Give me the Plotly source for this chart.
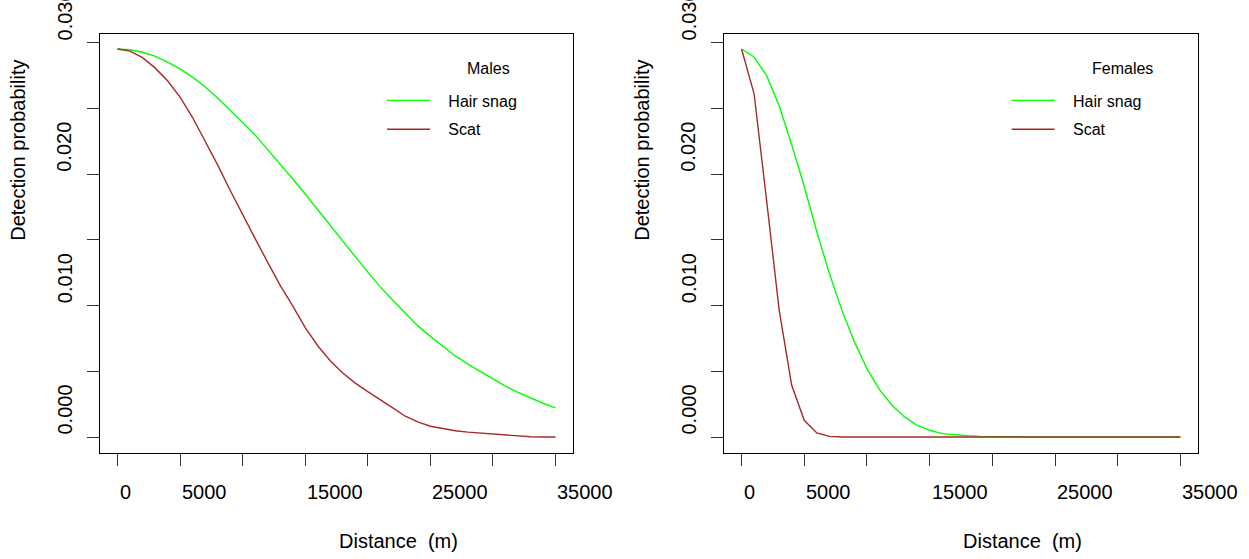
import plotly.graph_objects as go

# ---------------- data ----------------
distance_m = list(range(0, 36000, 1000))

males_hair_snag = [0.02954, 0.02948, 0.02929, 0.02900, 0.02853, 0.02803, 0.02740, 0.02666,
                   0.02580, 0.02490, 0.02394, 0.02300, 0.02190, 0.02076, 0.01964, 0.01850,
                   0.01733, 0.01612, 0.01493, 0.01373, 0.01255, 0.01143, 0.01041, 0.00943,
                   0.00846, 0.00766, 0.00690, 0.00617, 0.00555, 0.00497, 0.00443, 0.00387,
                   0.00340, 0.00298, 0.00257, 0.00221]
males_scat = [0.02954, 0.02938, 0.02888, 0.02810, 0.02712, 0.02588, 0.02432, 0.02255,
              0.02072, 0.01878, 0.01690, 0.01510, 0.01330, 0.01155, 0.00999, 0.00832,
              0.00695, 0.00580, 0.00487, 0.00410, 0.00345, 0.00285, 0.00222, 0.00158,
              0.00115, 0.00082, 0.00063, 0.00048, 0.00037, 0.00029, 0.00021, 0.00014,
              0.00008, 0.00002, 0.0, 0.0]
females_hair_snag = [0.02954, 0.02893, 0.02751, 0.02522, 0.02225, 0.01907, 0.01563, 0.01246,
                     0.00966, 0.00724, 0.00521, 0.00361, 0.00242, 0.00153, 0.00089, 0.00051,
                     0.00026, 0.00016, 0.00009, 0.00004, 0.00002, 0.0, 0.0, 0.0,
                     0.0, 0.0, 0.0, 0.0, 0.0, 0.0, 0.0, 0.0,
                     0.0, 0.0, 0.0, 0.0]
females_scat = [0.02954, 0.02613, 0.01800, 0.00966, 0.00394, 0.00127, 0.00031, 0.00005,
                0.0, 0.0, 0.0, 0.0, 0.0, 0.0, 0.0, 0.0,
                0.0, 0.0, 0.0, 0.0, 0.0, 0.0, 0.0, 0.0,
                0.0, 0.0, 0.0, 0.0, 0.0, 0.0, 0.0, 0.0,
                0.0, 0.0, 0.0, 0.0]

series_names = ["Hair snag", "Scat"]
panel_titles = ["Males", "Females"]
x_title = "Distance  (m)"
y_title = "Detection probability"

x_tick_vals = [0, 5000, 10000, 15000, 20000, 25000, 30000, 35000]
x_label_vals = [0, 5000, 15000, 25000, 35000]
x_label_text = ["0", "5000", "15000", "25000", "35000"]
y_tick_vals = [0.0, 0.005, 0.010, 0.015, 0.020, 0.025, 0.030]
y_label_vals = [0.0, 0.010, 0.020, 0.030]
y_label_text = ["0.000", "0.010", "0.020", "0.030"]

# ---------------- style ----------------
W, H = 1249, 559
FONT = "Liberation Sans, Arial, sans-serif"
GREEN = "#00FF00"
BROWN = "#A52A2A"
AX_FS = 20
LEG_FS = 16
PAD = "\u00a0\u00a0\u00a0"  # gap between legend sample line and its text

panels = [
    dict(x0=100, x1=573, xa="x", ya="y", leg="legend", hair=males_hair_snag, scat=males_scat,
         title_x=465, leg_x=388),
    dict(x0=724, x1=1198, xa="x2", ya="y2", leg="legend2", hair=females_hair_snag, scat=females_scat,
         title_x=1090, leg_x=1012.7),
]
box_top, box_bottom = 34, 452.5

fig = go.Figure()
for i, p in enumerate(panels):
    fig.add_trace(go.Scatter(x=distance_m, y=p["hair"], mode="lines", name=PAD + series_names[0],
                             line=dict(color=GREEN, width=1.4), xaxis=p["xa"], yaxis=p["ya"],
                             legend=p["leg"], legendgroup=f"h{i}"))
    fig.add_trace(go.Scatter(x=distance_m, y=p["scat"], mode="lines", name=PAD + series_names[1],
                             line=dict(color=BROWN, width=1.4), xaxis=p["xa"], yaxis=p["ya"],
                             legend=p["leg"], legendgroup=f"s{i}"))

ydom = [(H - box_bottom) / H, (H - box_top) / H]
axis_common = dict(showgrid=False, zeroline=False, showline=True, mirror=True,
                   linecolor="black", linewidth=1, ticks="outside", ticklen=12,
                   tickwidth=1, tickcolor="#333333", showticklabels=False)

layout = dict(width=W, height=H, margin=dict(l=0, r=0, t=0, b=0),
              paper_bgcolor="white", plot_bgcolor="white",
              font=dict(family=FONT, color="black", size=AX_FS), annotations=[])

for i, p in enumerate(panels):
    sfx = "" if i == 0 else "2"
    layout["xaxis" + sfx] = dict(axis_common, domain=[p["x0"] / W, p["x1"] / W],
                                 range=[-1400, 36400], tickvals=x_tick_vals,
                                 anchor="y" + sfx)
    layout["yaxis" + sfx] = dict(axis_common, domain=ydom, range=[-0.00118, 0.03068],
                                 tickvals=y_tick_vals, anchor="x" + sfx)
    # tick labels (start-anchored at the tick, as in the reference)
    for v, t in zip(x_label_vals, x_label_text):
        layout["annotations"].append(dict(x=v, xref=p["xa"], y=0, yref=p["ya"] + " domain",
                                          text=t, showarrow=False, xanchor="left",
                                          yanchor="middle", yshift=-39,
                                          font=dict(size=AX_FS)))
    for v, t in zip(y_label_vals, y_label_text):
        layout["annotations"].append(dict(x=0, xref=p["xa"] + " domain", y=v, yref=p["ya"],
                                          text=t, showarrow=False, textangle=-90,
                                          xanchor="center", yanchor="bottom", xshift=-35.5,
                                          font=dict(size=AX_FS)))
    layout["annotations"].append(dict(x=0.5, xref=p["xa"] + " domain", y=0, yref=p["ya"] + " domain",
                                      text=x_title, showarrow=False, xanchor="left",
                                      yanchor="middle", yshift=-88.5, font=dict(size=AX_FS)))
    layout["annotations"].append(dict(x=0, xref=p["xa"] + " domain", y=0.5, yref=p["ya"] + " domain",
                                      text=y_title, showarrow=False, textangle=-90,
                                      xanchor="center", yanchor="bottom", xshift=-82,
                                      font=dict(size=AX_FS)))
    # legend title
    layout["annotations"].append(dict(x=p["title_x"] / W, xref="paper", y=(H - 68) / H, yref="paper",
                                      text=panel_titles[i], showarrow=False, xanchor="left",
                                      yanchor="middle", font=dict(size=LEG_FS)))
    layout["legend" + sfx] = dict(x=(p["leg_x"] - 6) / W, xanchor="left", y=(H - 83.5) / H,
                                  yanchor="top", bgcolor="rgba(0,0,0,0)", borderwidth=0,
                                  font=dict(size=LEG_FS, family=FONT), itemwidth=43,
                                  tracegroupgap=5, traceorder="grouped")

fig.update_layout(**layout)
fig.write_html("out.html", config={"displayModeBar": False},
               post_script="document.body.style.margin='0';")
